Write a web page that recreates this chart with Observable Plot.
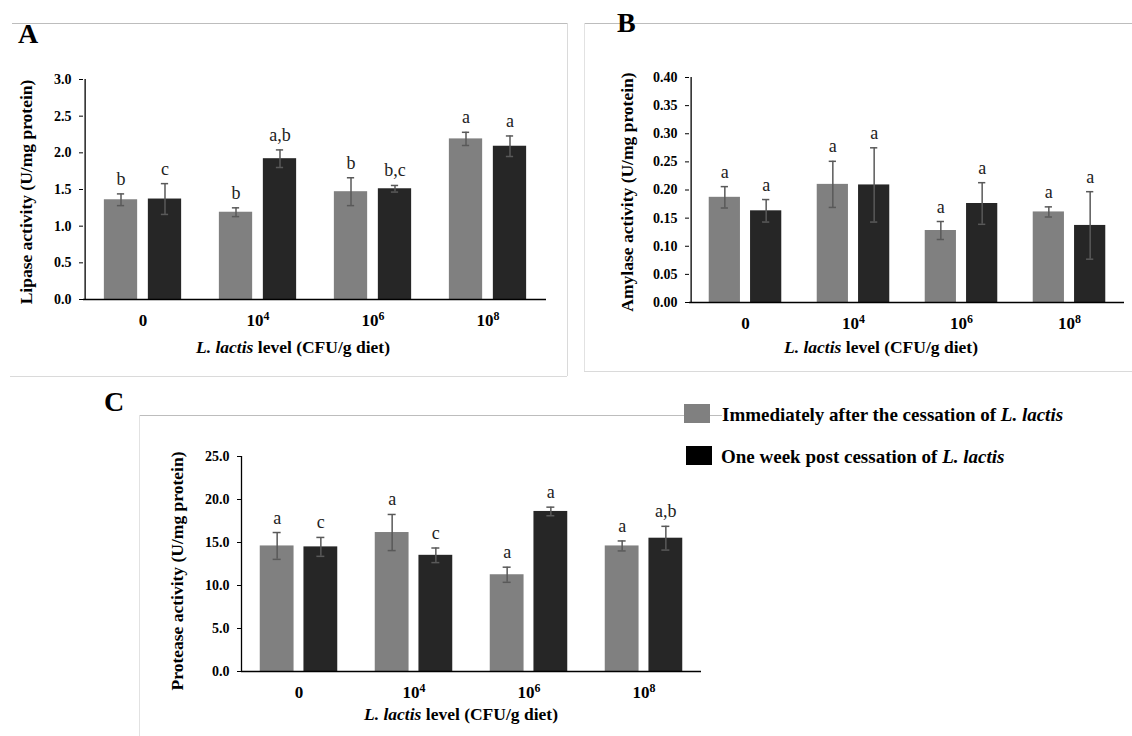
<!DOCTYPE html>
<html><head><meta charset="utf-8">
<script src="https://cdn.jsdelivr.net/npm/d3@7"></script>
<script src="https://cdn.jsdelivr.net/npm/@observablehq/plot@0.6"></script>
<style>
body{margin:0;background:#fff;}
#fig{position:relative;width:1132px;height:736px;overflow:hidden;background:#fff;font-family:"Liberation Serif","Times New Roman",serif;color:#000;}
.abs{position:absolute;}
.letter{font-weight:bold;font-size:28px;line-height:1;}
.xt{font-weight:bold;font-size:17.5px;white-space:nowrap;transform:translate(-50%,-50%);line-height:1;}
.yt{font-weight:bold;font-size:17.5px;white-space:nowrap;transform:translate(-50%,-50%) rotate(-90deg);line-height:1;}
.leg{font-weight:bold;font-size:19px;white-space:nowrap;transform:translateY(-50%);line-height:1;}
.panel text{font-family:"Liberation Serif","Times New Roman",serif !important;}
.panel g[aria-label="y-axis tick label"]{font-size:14px !important;font-weight:bold !important;}
.panel g[aria-label="x-axis tick label"]{font-size:17px !important;font-weight:bold !important;}
.panel g[aria-label="text"]{font-size:18px !important;}
</style></head>
<body><div id="fig"></div>
<script>
// ---- data ----
const categories = ["0", "10\u2074", "10\u2076", "10\u2078"];
const seriesNames = ["Immediately after the cessation of", "One week post cessation of"];
const seriesColors = ["#808080", "#262626"];

const lipaseImm = [1.36, 1.19, 1.47, 2.19];
const lipaseImmErr = [0.08, 0.06, 0.19, 0.09];
const lipaseImmSig = ["b", "b", "b", "a"];
const lipaseWeek = [1.37, 1.92, 1.51, 2.09];
const lipaseWeekErr = [0.21, 0.12, 0.045, 0.14];
const lipaseWeekSig = ["c", "a,b", "b,c", "a"];

const amylaseImm = [0.187, 0.210, 0.128, 0.161];
const amylaseImmErr = [0.019, 0.041, 0.016, 0.009];
const amylaseImmSig = ["a", "a", "a", "a"];
const amylaseWeek = [0.163, 0.209, 0.176, 0.137];
const amylaseWeekErr = [0.020, 0.066, 0.037, 0.060];
const amylaseWeekSig = ["a", "a", "a", "a"];

const proteaseImm = [14.6, 16.16, 11.25, 14.6];
const proteaseImmErr = [1.56, 2.1, 0.88, 0.58];
const proteaseImmSig = ["a", "a", "a", "a"];
const proteaseWeek = [14.49, 13.51, 18.61, 15.5];
const proteaseWeekErr = [1.1, 0.85, 0.5, 1.38];
const proteaseWeekSig = ["c", "c", "a", "a,b"];

const lipaseTicks = [0, 0.5, 1.0, 1.5, 2.0, 2.5, 3.0];
const amylaseTicks = [0, 0.05, 0.10, 0.15, 0.20, 0.25, 0.30, 0.35, 0.40];
const proteaseTicks = [0, 5, 10, 15, 20, 25];

const superDigits = {"\u2074": "4", "\u2076": "6", "\u2078": "8"};
const SVGNS = "http://www.w3.org/2000/svg";
const fig = document.getElementById("fig");

function fixSuperscripts(svg) {
  svg.querySelectorAll("text").forEach(t => {
    const s = t.textContent;
    const last = s.slice(-1);
    if (superDigits[last]) {
      t.textContent = s.slice(0, -1);
      const ts = document.createElementNS(SVGNS, "tspan");
      ts.setAttribute("style", "font-size:0.7em;font-weight:bold");
      ts.setAttribute("dy", "-0.5em");
      ts.textContent = superDigits[last];
      t.appendChild(ts);
    }
  });
}

function makePanel(o) {
  const rows = [];
  categories.forEach((c, i) => {
    rows.push({cat: c, s: 0, v: o.a[i], e: o.ae[i], sig: o.as[i]});
    rows.push({cat: c, s: 1, v: o.b[i], e: o.be[i], sig: o.bs[i]});
  });
  const bw = (o.width - o.ml - o.mr) / categories.length;
  const barW = 0.294 * bw, gap = 0.086 * bw;
  const off = gap / 2 + barW / 2;
  const outer = bw / 2 - gap / 2 - barW;
  const inner = bw / 2 + gap / 2;
  const yMax = o.ticks[o.ticks.length - 1];
  const marks = [];
  [0, 1].forEach(s => {
    const d = rows.filter(r => r.s === s);
    const dx = s === 0 ? -off : off;
    marks.push(Plot.barY(d, {x: "cat", y: "v", fill: seriesColors[s],
      insetLeft: s === 0 ? outer : inner, insetRight: s === 0 ? inner : outer}));
    marks.push(Plot.ruleX(d, {x: "cat", y1: r => r.v - r.e, y2: r => r.v + r.e, dx, stroke: "#595959", strokeWidth: 1.5}));
    marks.push(Plot.tickY(d, {x: "cat", y: r => r.v + r.e, dx, insetLeft: bw / 2 - 4, insetRight: bw / 2 - 4, stroke: "#595959", strokeWidth: 1.5}));
    marks.push(Plot.tickY(d, {x: "cat", y: r => r.v - r.e, dx, insetLeft: bw / 2 - 4, insetRight: bw / 2 - 4, stroke: "#595959", strokeWidth: 1.5}));
    marks.push(Plot.text(d, {x: "cat", y: r => r.v + r.e, dx, dy: -9, text: "sig", lineAnchor: "bottom",
      fontSize: 18, fontWeight: "normal", fill: "#222"}));
  });
  marks.push(Plot.ruleY([0], {stroke: "#000", strokeWidth: 1.3}));
  marks.push(Plot.ruleX([categories[0]], {dx: -bw / 2, y1: 0, y2: yMax, stroke: "#000", strokeWidth: 1.3}));
  marks.push(Plot.axisY({ticks: o.ticks, tickFormat: o.fmt, tickSize: 4, tickPadding: 8, fontSize: 14, fontWeight: "bold", label: null}));
  marks.push(Plot.axisX({tickSize: 0, tickPadding: 14, fontSize: 17, fontWeight: "bold", label: null}));
  const svg = Plot.plot({
    width: o.width, height: o.height,
    marginLeft: o.ml, marginRight: o.mr, marginTop: o.mt, marginBottom: o.mb,
    x: {domain: categories, padding: 0},
    y: {domain: [0, yMax]},
    style: {fontFamily: "'Liberation Serif','Times New Roman',serif", color: "#000", background: "transparent", overflow: "visible"},
    marks
  });
  svg.classList.add("panel");
  fixSuperscripts(svg);
  svg.style.position = "absolute";
  svg.style.left = o.left + "px";
  svg.style.top = o.top + "px";
  fig.appendChild(svg);
}

function addDiv(cls, html, css) {
  const d = document.createElement("div");
  d.className = "abs " + cls;
  d.innerHTML = html;
  Object.assign(d.style, css);
  fig.appendChild(d);
  return d;
}
function hline(x1, x2, y, color) { addDiv("", "", {left: x1 + "px", top: y + "px", width: (x2 - x1) + "px", height: "0", borderTop: "1px solid " + color}); }
function vline(x, y1, y2, color) { addDiv("", "", {left: x + "px", top: y1 + "px", height: (y2 - y1) + "px", width: "0", borderLeft: "1px solid " + color}); }

// frames
hline(12, 567, 23, "#bdbdbd"); vline(567, 23, 376, "#dadada"); hline(10, 567, 376, "#dadada");
hline(584, 1132, 23, "#bdbdbd"); vline(584, 23, 371, "#e2e2e2"); hline(584, 1132, 371, "#dadada");
hline(139, 722, 415, "#bdbdbd"); vline(139, 415, 736, "#e2e2e2");

// panels
makePanel({a: lipaseImm, ae: lipaseImmErr, as: lipaseImmSig, b: lipaseWeek, be: lipaseWeekErr, bs: lipaseWeekSig,
  ticks: lipaseTicks, fmt: d3.format(".1f"), left: 0, top: 0, width: 560, height: 340, ml: 83, mr: 14, mt: 79, mb: 41});
makePanel({a: amylaseImm, ae: amylaseImmErr, as: amylaseImmSig, b: amylaseWeek, be: amylaseWeekErr, bs: amylaseWeekSig,
  ticks: amylaseTicks, fmt: d3.format(".2f"), left: 584, top: 0, width: 548, height: 345, ml: 105, mr: 8, mt: 77, mb: 43});
makePanel({a: proteaseImm, ae: proteaseImmErr, as: proteaseImmSig, b: proteaseWeek, be: proteaseWeekErr, bs: proteaseWeekSig,
  ticks: proteaseTicks, fmt: d3.format(".1f"), left: 139, top: 415, width: 600, height: 321, ml: 102, mr: 38, mt: 41, mb: 65});

// panel letters
addDiv("letter", "A", {left: "18px", top: "20px"});
addDiv("letter", "B", {left: "617px", top: "9px"});
addDiv("letter", "C", {left: "104px", top: "388px"});

// axis titles
const xTitle = "<i>L. lactis</i> level (CFU/g diet)";
addDiv("xt", xTitle, {left: "293px", top: "348px"});
addDiv("xt", xTitle, {left: "881px", top: "348px"});
addDiv("xt", xTitle, {left: "461px", top: "715px"});
addDiv("yt", "Lipase activity (U/mg protein)", {left: "27px", top: "192px"});
addDiv("yt", "Amylase activity (U/mg protein)", {left: "628px", top: "192px"});
addDiv("yt", "Protease activity (U/mg protein)", {left: "178px", top: "571px"});

// legend
addDiv("", "", {left: "684px", top: "404px", width: "26px", height: "19px", background: seriesColors[0]});
addDiv("", "", {left: "686px", top: "446px", width: "26px", height: "19px", background: "#000"});
addDiv("leg", seriesNames[0] + " <i>L. lactis</i>", {left: "722px", top: "414px"});
addDiv("leg", seriesNames[1] + " <i>L. lactis</i>", {left: "721px", top: "456px"});
</script>
</body></html>
